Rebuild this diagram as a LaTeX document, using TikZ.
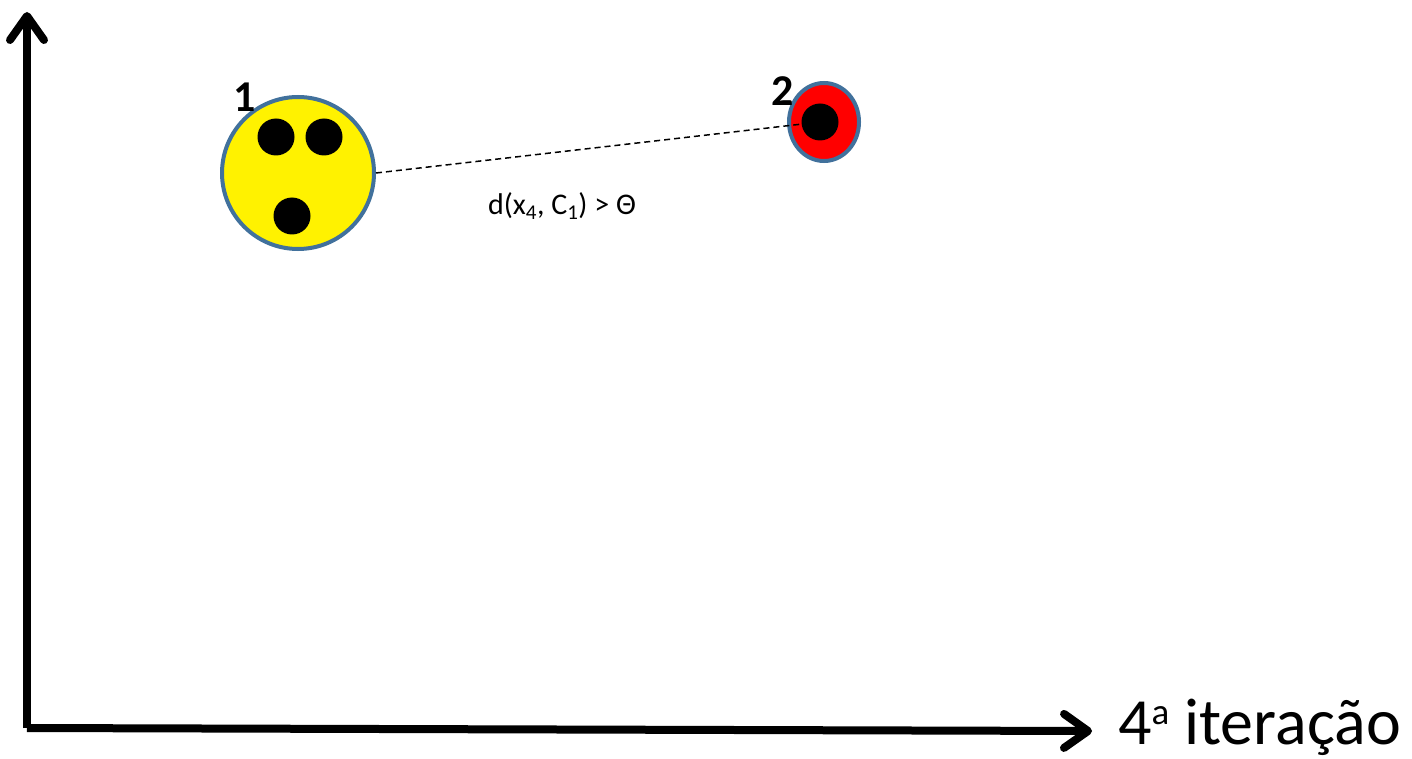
\documentclass[tikz,border=0pt]{standalone}
\usepackage{fontspec}
\setmainfont{Carlito}
\usetikzlibrary{arrows.meta,shapes.geometric}
\definecolor{rimblue}{HTML}{41719C}
\begin{document}
\begin{tikzpicture}[x=1pt,y=-1pt,
  axis/.style={line width=8pt, -{Straight Barb[length=24pt,width=34pt,round]}},
  cluster/.style={draw=rimblue, line width=4pt, inner sep=0pt},
  dot/.style={circle, fill=black, minimum size=37pt, inner sep=0pt},
  clabel/.style={font=\bfseries\fontsize{44}{48}\selectfont, inner sep=0pt},
  dist/.style={line width=1.5pt, dash pattern=on 6pt off 4pt}]
\useasboundingbox (0,0) rectangle (1412,759);
\fill[white] (0,0) rectangle (1412,759);
% axes
\coordinate (O) at (27,728);
\coordinate (ytip) at (27,12);
\coordinate (xtip) at (1092,731);
\draw[axis] (O) -- (ytip);
\draw[axis] (O) -- (xtip);
\node[anchor=west, font=\fontsize{66}{72}\selectfont, inner sep=0pt] (xlabel) at (1118,727) {4\raisebox{0.3em}{\fontsize{37}{40}\selectfont a} iteração};
% cluster 1
\node[cluster, circle, fill=yellow, minimum size=152pt] (c1) at (298,173) {};
\node[dot] (d1a) at (276,137) {};
\node[dot] (d1b) at (324,137) {};
\node[dot] (d1c) at (292,216) {};
\node[clabel] (l1) at (245,97) {1};
% cluster 2
\node[cluster, ellipse, fill=red, minimum width=70pt, minimum height=78pt] (c2) at (824,122) {};
\coordinate (d2pos) at (820,122);
\draw[dist] (c1.east) -- (d2pos);
\node[dot] (d2) at (d2pos) {};
\node[clabel] (l2) at (783,91) {2};
% distance label
\node[font=\fontsize{30}{34}\selectfont, inner sep=0pt] (dl) at (562,206) {d(x\textsubscript{4}, C\textsubscript{1}) > Θ};
\end{tikzpicture}
\end{document}
